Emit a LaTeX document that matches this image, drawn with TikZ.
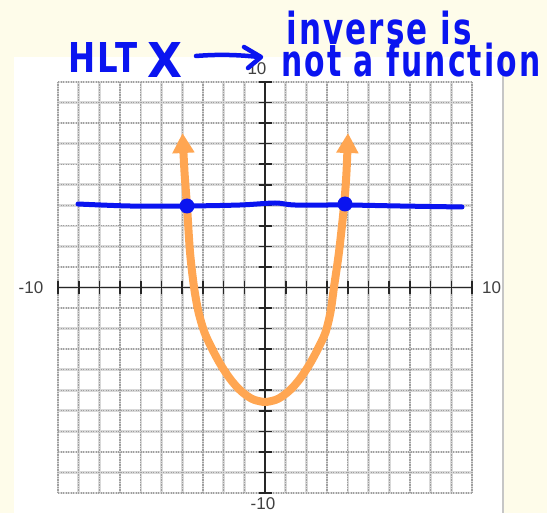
\documentclass[tikz,border=0pt]{standalone}
\usepackage{fontspec}
\usepackage{graphicx}
\setmainfont{DejaVu Sans}
\newfontfamily\handfont[LetterSpace=7]{DejaVu Sans}
\newfontfamily\axfont{Liberation Sans}
\usetikzlibrary{arrows.meta}
\definecolor{cream}{RGB}{254,252,234}
\definecolor{hand}{RGB}{10,20,240}
\definecolor{curvecol}{RGB}{255,166,82}
\begin{document}
\begin{tikzpicture}[x=1pt,y=-1pt,
  gridline/.style={gray!30,line width=2.6pt},
  griddots/.style={gray!75,line width=1.3pt,dash pattern=on 1.2pt off 1.3pt},
  axisline/.style={black!85,line width=1.8pt},
  tickmark/.style={black!85,line width=1.6pt},
  axlabel/.style={font=\axfont\fontsize{17}{17}\selectfont,text=black!75,inner sep=0pt},
  handtext/.style={text=hand,inner sep=0pt,anchor=base west,font=\handfont\bfseries},
  handstroke/.style={hand,line width=4.5pt,line cap=round,line join=round},
]
\fill[cream] (0,0) rectangle (547,513);
\useasboundingbox (0,0) rectangle (547,513);
\fill[white] (14,57) rectangle (503,513);
\draw[gray!45,line width=1.5pt] (503,57) -- (503,513);
% grid
\foreach \k in {0,...,20}{
  \pgfmathsetmacro\gx{58+20.7*\k}
  \pgfmathsetmacro\gy{82+20.55*\k}
  \draw[gridline] (\gx,82) -- (\gx,493);
  \draw[gridline] (58,\gy) -- (472,\gy);
}
\foreach \k in {0,...,20}{
  \pgfmathsetmacro\gx{58+20.7*\k}
  \pgfmathsetmacro\gy{82+20.55*\k}
  \draw[griddots] (\gx,82) -- (\gx,493);
  \draw[griddots] (58,\gy) -- (472,\gy);
}
% axes
\draw[axisline] (58,287.5) -- (472,287.5);
\draw[axisline] (265,82) -- (265,493);
\foreach \k in {0,...,20}{
  \pgfmathsetmacro\gx{58+20.7*\k}
  \pgfmathsetmacro\gy{82+20.55*\k}
  \draw[tickmark] (\gx,281.5) -- (\gx,294);
  \draw[tickmark] (259,\gy) -- (271.5,\gy);
}
% axis labels
\node[axlabel,anchor=east] (xmin) at (43.5,287.5) {-10};
\node[axlabel,anchor=west] (xmax) at (482,288) {10};
\node[axlabel,anchor=south] (ymax) at (257,74.5) {10};
\node[axlabel,anchor=north] (ymin) at (263,497) {-10};
% parabola
\draw[curvecol,line width=8pt,{Triangle[width=21pt,length=20pt]}-{Triangle[width=21pt,length=20pt]}]
  plot[smooth,tension=0.5] coordinates {
  (182.5,133) (184.5,172) (187,206) (190,252) (194,287) (198.5,312) (204.7,333)
  (212.7,350) (219.1,362) (225.3,372) (231,380) (236.9,387) (242.1,392) (248.8,397) (254.7,400)
  (265,402)
  (275.3,400) (281.2,397) (287.9,392) (293.1,387) (299,380) (304.7,372) (310.9,362) (317.3,350)
  (325.3,333) (330.5,312) (334,287) (339,252) (344,206) (346.5,172) (348,133)};
% horizontal line
\draw[hand,line width=5pt,line cap=round] plot[smooth,tension=0.5] coordinates {(78,204) (130,206) (187,206) (240,205) (275,203) (295,205) (346,205) (400,206) (462,207)};
\fill[hand] (187,206) circle (7.5);
\fill[hand] (345,204) circle (7.5);
% hand text
\node[handtext] (hlt) at (68,73) {\resizebox{69pt}{30pt}{HLT}};
\node[handtext] (xmark) at (147,78) {\resizebox{35pt}{35pt}{X}};
\draw[handstroke] (196,56) .. controls (220,54) and (240,55) .. (259,57);
\draw[handstroke] (244,47) -- (261,57) -- (248,68);
\node[handtext] (note) at (281,77) {\rlap{\hspace{5pt}\raisebox{32.5pt}{\resizebox{186pt}{33.5pt}{inverse is}}}\resizebox{259pt}{33.5pt}{not a function}};
\end{tikzpicture}
\end{document}
